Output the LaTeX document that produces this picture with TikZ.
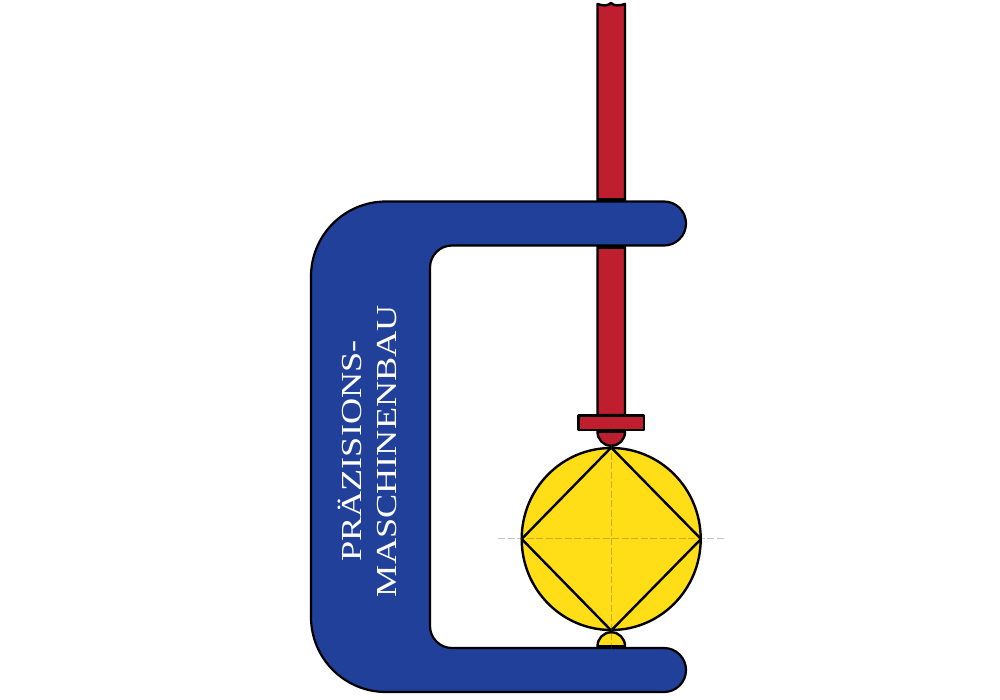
\documentclass[tikz,border=0pt]{standalone}
\usepackage{graphicx}
\usepackage{fontspec}
\setmainfont{Liberation Serif}
\definecolor{clampblue}{HTML}{21409A}
\definecolor{rodred}{HTML}{BE1E2D}
\definecolor{ballyellow}{HTML}{FFDD17}
\tikzset{
  part/.style={draw=black,line width=2.4pt,line join=round},
  axisline/.style={draw=black!70,opacity=.32,line width=1pt,dash pattern=on 7pt off 2.5pt},
  brand/.style={text=white,font=\fontsize{29}{35}\selectfont,align=center,rotate=90,inner sep=0pt}
}
\begin{document}
\begin{tikzpicture}[x=1pt,y=-1pt]
\useasboundingbox (0,0) rectangle (1000,700);
% spindle
\draw[part,fill=rodred] (597.5,4) .. controls (603,6) and (608,6) .. (611,3) .. controls (614,6) and (619,6) .. (625,4) -- (625,415) -- (597.5,415) -- cycle;
\draw[part] (597.5,199.5) -- (625,199.5);
\draw[part] (597.5,247.5) -- (625,247.5);
% lower anvil
\draw[part,fill=ballyellow] (597.5,647) -- (597.5,646) arc[start angle=180,end angle=360,radius=13.75] -- (625,647) -- cycle;
\draw[part,line width=3pt] (597.5,646.5) -- (625,646.5);
% pressure tip
\draw[part,fill=rodred] (597.5,430) -- (597.5,432) arc[start angle=180,end angle=0,radius=13.75] -- (625,430) -- cycle;
% pad
\draw[part,fill=rodred] (578.5,415.5) rectangle (644,430);
\draw[part,line width=3pt] (597.5,431) -- (625,431);
% clamp frame
\draw[part,fill=clampblue,line width=2.2pt] (386,201.5) -- (664,201.5) arc[start angle=-90,end angle=90,radius=22] -- (452,245.5) arc[start angle=-90,end angle=-180,radius=22] -- (430,626) arc[start angle=180,end angle=90,radius=22] -- (664,648) arc[start angle=-90,end angle=90,radius=22] -- (386,692) arc[start angle=90,end angle=180,radius=75] -- (311,276.5) arc[start angle=180,end angle=270,radius=75] -- cycle;
% workpiece
\draw[part,fill=ballyellow] (611.2,539) ellipse[x radius=89.5,y radius=91];
\draw[part] (611.2,447.5) -- (701,539) -- (611.2,630.5) -- (521.7,539) -- cycle;
% axes
\draw[axisline] (498,538.5) -- (724,538.5);
\draw[axisline] (611,424) -- (611,654);
% lettering
\node[brand] (label) at (367.5,451) {\scalebox{1.25}[1]{PRÄZISIONS-}\\\scalebox{1.25}[1]{MASCHINENBAU}};
\end{tikzpicture}
\end{document}
